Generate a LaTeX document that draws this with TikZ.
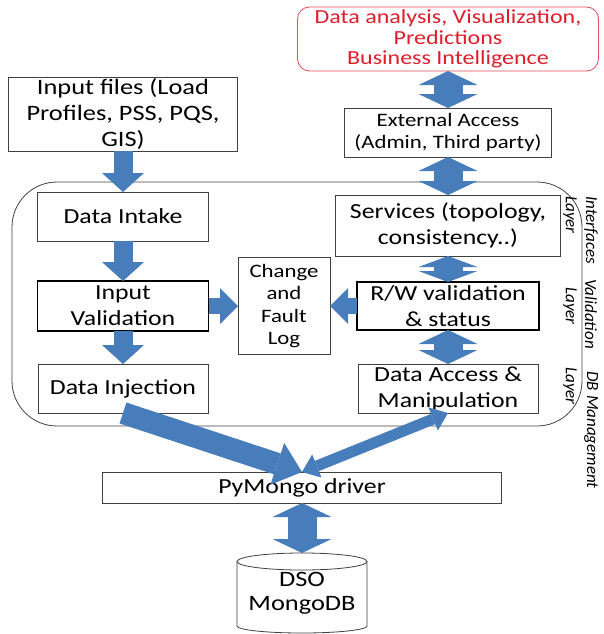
\documentclass[tikz,border=0pt]{standalone}
\usepackage{fontspec}
\usepackage{tikz}
\usetikzlibrary{arrows.meta}
\setmainfont{Carlito}[FakeStretch=1.2]
\newfontfamily\layerfont{Carlito}
\definecolor{flowblue}{RGB}{72,125,188}
\definecolor{bired}{RGB}{222,30,45}
\newcommand{\bfnt}{\fontsize{21.5}{26}\selectfont}

\begin{document}
\begin{tikzpicture}[x=1pt, y=-1pt,
	box/.style={draw=black!75, fill=white, line width=0.8pt, inner sep=0pt, outer sep=0pt, align=center, font=\bfnt},
	heavybox/.style={box, draw=black, line width=1.8pt},
	layertxt/.style={rotate=-90, inner sep=0pt, font=\layerfont\itshape\fontsize{17}{19}\selectfont},
	oneway/.style={draw=flowblue, line width=19pt, -{Triangle[length=19pt, width=42pt, line width=0pt]}},
	sideway/.style={draw=flowblue, line width=16pt, -{Triangle[length=18pt, width=36pt, line width=0pt]}},
	twoway/.style={draw=flowblue, line width=29pt, {Triangle[length=14pt, width=59pt, line width=0pt]}-{Triangle[length=14pt, width=59pt, line width=0pt]}},
	shortway/.style={draw=flowblue, line width=29pt, {Triangle[length=11pt, width=59pt, line width=0pt]}-{Triangle[length=11pt, width=59pt, line width=0pt]}},
	bigway/.style={draw=flowblue, line width=22pt, -{Triangle[length=26pt, width=44pt, line width=0pt]}},
	thinway/.style={draw=flowblue, line width=11pt, {Triangle[length=16pt, width=25pt, line width=0pt]}-{Triangle[length=16pt, width=25pt, line width=0pt]}}]
	\useasboundingbox (0,0) rectangle (603,634);

	% management layers
	\draw [draw=black!75, line width=0.8pt, rounded corners=45pt] (12,182) rectangle (582,426);

	\node [box, draw=bired!80, text=bired, rounded corners=12pt, minimum width=301pt, minimum height=64pt, font=\fontsize{20}{20.5}\selectfont] (ana) at (448,39) {Data analysis, Visualization,\\Predictions\\Business Intelligence};
	\node [box, minimum width=207pt, minimum height=49pt, font=\fontsize{19}{22}\selectfont] (ext) at (448,132.5) {External Access\\(Admin, Third party)};
	\node [box, minimum width=229pt, minimum height=74pt, font=\fontsize{22}{26}\selectfont] (inp) at (123,114) {Input files (Load\\Profiles, PSS, PQS,\\GIS)};

	\node [box, minimum width=171pt, minimum height=49pt] (din) at (123,216.5) {Data Intake};
	\node [heavybox, minimum width=171pt, minimum height=50pt] (ival) at (123,306) {Input\\Validation};
	\node [box, minimum width=170pt, minimum height=49pt] (dinj) at (123,388.5) {Data Injection};
	\node [box, minimum width=92pt, minimum height=97pt, font=\fontsize{19}{22.5}\selectfont] (log) at (284,306) {Change\\and\\Fault\\Log};
	\node [box, minimum width=225pt, minimum height=61pt] (svc) at (448,225.5) {Services (topology,\\consistency..)};
	\node [heavybox, minimum width=182pt, minimum height=48pt] (rw) at (448,306) {R/W validation\\\& status};
	\node [box, minimum width=180pt, minimum height=49pt] (dam) at (448,388.5) {Data Access \&\\Manipulation};

	\node [box, minimum width=399pt, minimum height=31pt] (py) at (302,487.5) {PyMongo driver};

	% database
	\draw [draw=black!75, line width=0.8pt, fill=white] (237,561.5) -- (237,626) arc [start angle=180, end angle=0, x radius=65, y radius=7] -- (367,561.5);
	\draw [draw=black!75, line width=0.8pt, fill=white] (302,561.5) ellipse [x radius=65, y radius=8.5];
	\coordinate (dbtop) at (302,553);
	\node [align=center, inner sep=0pt, font=\fontsize{22}{24}\selectfont] (db) at (302,593) {DSO\\MongoDB};

	\node [layertxt] (lif) at (591,230) {Interfaces};
	\node [layertxt] (lva) at (591,314) {Validation};
	\node [layertxt] (ldb) at (591,430) {DB Management};
	\node [layertxt] (ly1) at (570,215) {Layer};
	\node [layertxt] (ly2) at (570,306) {Layer};
	\node [layertxt] (ly3) at (570,386) {Layer};

	\draw [oneway] (inp) -- (din);
	\draw [oneway] (din) -- (ival);
	\draw [oneway] (ival) -- (dinj);
	\draw [sideway] (ival) -- (log);
	\draw [sideway] (rw) -- (log);
	\draw [twoway] (ana) -- (ext);
	\draw [twoway] (ext) -- (svc);
	\draw [shortway] (svc) -- (rw);
	\draw [twoway] (rw) -- (dam);
	\draw [bigway] (dinj.south) -- (py.north);
	\draw [thinway] (py.north) -- (dam.south);
	\draw [twoway] (py) -- (dbtop);
\end{tikzpicture}
\end{document}
